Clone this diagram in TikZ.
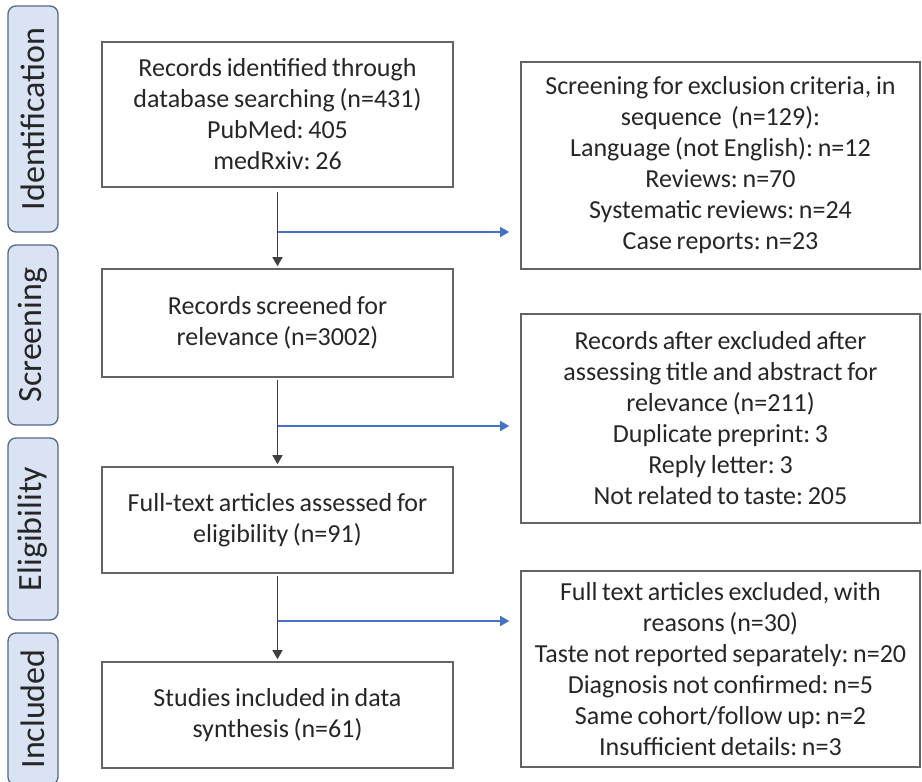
\documentclass[tikz,border=0pt]{standalone}
\usepackage{fontspec}
\setmainfont{Carlito}[WordSpace=0.8]
\usepackage{xcolor}
\usetikzlibrary{arrows.meta,positioning}
\definecolor{BoxGray}{RGB}{100,100,100}
\definecolor{TextGray}{RGB}{38,38,38}
\definecolor{ArrGray}{RGB}{64,64,64}
\definecolor{SideBlue}{RGB}{68,114,196}
\definecolor{StageFill}{RGB}{218,227,243}
\definecolor{StageEdge}{RGB}{84,104,134}
\frenchspacing

\begin{document}
\begin{tikzpicture}[
    x=1pt, y=-1pt,
    box/.style={draw=BoxGray, line width=1.6pt, inner sep=0pt, align=center, text=TextGray, font=\fontsize{26}{31}\selectfont},
    stage/.style={draw=StageEdge, line width=1.3pt, rounded corners=8pt, fill=StageFill, rotate=90, inner sep=0pt, minimum height=50pt, text=TextGray, font=\fontsize{34}{40}\selectfont},
    arr/.style={-{Triangle[length=9pt,width=10pt]}, line width=1.6pt, draw=ArrGray, fill=ArrGray},
    side/.style={-{Triangle[length=9pt,width=10pt]}, line width=1.4pt, draw=SideBlue, fill=SideBlue}
]
    \useasboundingbox (0,0) rectangle (922,782);

    % phases
    \node[stage, minimum width=226pt] (ident) at (33,119) {Identification};
    \node[stage, minimum width=180pt] (screen) at (33,335) {Screening};
    \node[stage, minimum width=182pt] (elig) at (33,529) {Eligibility};
    \node[stage, minimum width=152pt] (incl) at (33,709) {Included};

    % main column
    \node[box, minimum width=351pt, minimum height=145pt] (records) at (277.5,114.5) {Records identified through\\database searching (n=431)\\PubMed: 405\\medRxiv: 26};
    \node[box, minimum width=351pt, minimum height=108pt] (screened) at (277.5,323) {Records screened for\\relevance (n=3002)};
    \node[box, minimum width=351pt, minimum height=106pt] (fulltext) at (277.5,520) {Full-text articles assessed for\\eligibility (n=91)};
    \node[box, minimum width=351pt, minimum height=106pt] (included) at (277.5,715) {Studies included in data\\synthesis (n=61)};

    % exclusions
    \node[box, minimum width=399pt, minimum height=207pt] (crit) at (720.5,165.5) {Screening for exclusion criteria, in\\sequence\ \ (n=129):\\Language (not English): n=12\\Reviews: n=70\\Systematic reviews: n=24\\Case reports: n=23};
    \node[box, minimum width=399pt, minimum height=209pt] (title) at (720.5,418.5) {Records after excluded after\\assessing title and abstract for\\relevance (n=211)\\Duplicate preprint: 3\\Reply letter: 3\\Not related to taste: 205};
    \node[box, minimum width=399pt, minimum height=196pt] (reasons) at (720.5,669) {Full text articles excluded, with\\reasons (n=30)\\Taste not reported separately: n=20\\Diagnosis not confirmed: n=5\\Same cohort/follow up: n=2\\Insufficient details: n=3};

    % flow
    \draw[arr, shorten <=4pt, shorten >=2pt] (records) -- (screened);
    \draw[arr, shorten <=2pt, shorten >=2pt] (screened) -- (fulltext);
    \draw[arr, shorten <=2pt, shorten >=2pt] (fulltext) -- (included);

    \coordinate (split1) at (277.5,232);
    \coordinate (split2) at (277.5,426);
    \coordinate (split3) at (277.5,621);
    \draw[side, shorten >=11pt] (split1) -- (split1 -| crit.west);
    \draw[side, shorten >=11pt] (split2) -- (split2 -| title.west);
    \draw[side, shorten >=11pt] (split3) -- (split3 -| reasons.west);
\end{tikzpicture}
\end{document}
